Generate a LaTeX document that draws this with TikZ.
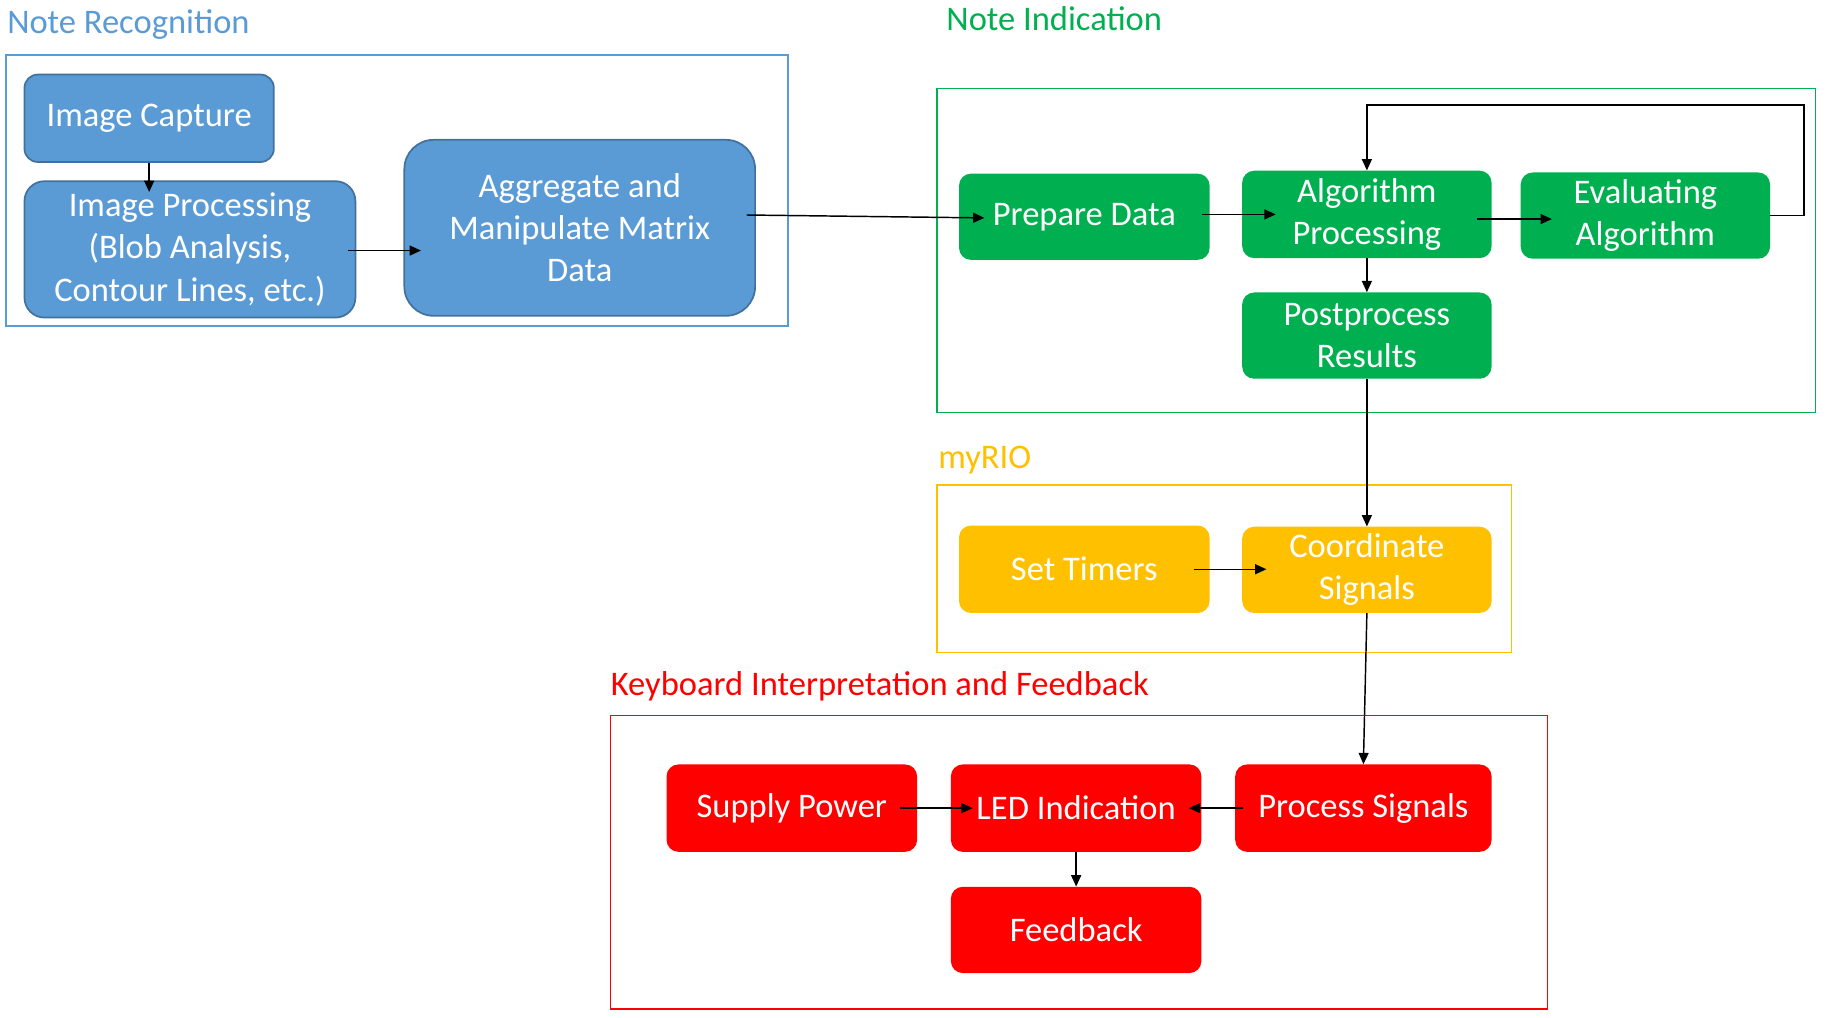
\documentclass[tikz,border=0pt]{standalone}
\usepackage{fontspec}
\setmainfont{Carlito}
\usetikzlibrary{arrows.meta,calc}
\definecolor{nblue}{HTML}{5B9BD5}
\definecolor{nbluedark}{HTML}{41719C}
\definecolor{ngreen}{HTML}{00B050}
\definecolor{nyellow}{HTML}{FFC000}
\definecolor{nred}{HTML}{FF0000}
\begin{document}
\begin{tikzpicture}[x=0.8779pt,y=-0.8779pt,
  font=\fontsize{26}{31.8}\selectfont,
  sz/.style 2 args={minimum width={#1*0.8779pt},minimum height={#2*0.8779pt}},
  proc/.style={rectangle,inner sep=0pt,align=center,text=white},
  bluebox/.style={proc,fill=nblue,draw=nbluedark,line width=1.3pt},
  greenbox/.style={proc,fill=ngreen,rounded corners=9pt},
  yellowbox/.style={proc,fill=nyellow,rounded corners=9pt},
  redbox/.style={proc,fill=nred,rounded corners=9pt},
  group/.style={line width=1.2pt},
  grouplabel/.style={anchor=west,inner sep=0pt},
  arr/.style={line width=1.1pt,-{Triangle[length=8.5pt,width=7.5pt]}}
]
\useasboundingbox (0,0) rectangle (1567,873.6);

% ---------- Note Recognition ----------
\node[grouplabel,text=nblue] (lblrec) at (6,21) {Note Recognition};
\draw[group,draw=nblue] (5,47) rectangle (676,280);
\node[bluebox,sz={214}{75},rounded corners=10pt] (cap) at (128,101.5) {Image Capture};
\node[bluebox,sz={284}{117},rounded corners=15pt] (ip) at (163,214) {Image Processing\\(Blob Analysis,\\Contour Lines, etc.)};
\node[bluebox,sz={301}{151},rounded corners=22pt] (agg) at (497.5,195.5) {Aggregate and\\Manipulate Matrix\\Data};

% ---------- Note Indication ----------
\node[grouplabel,text=ngreen] (lblind) at (812,16) {Note Indication};
\draw[group,draw=ngreen] (804,76) rectangle (1558,354);
\node[greenbox,sz={215}{74}] (prep) at (930.5,186) {Prepare Data};
\node[greenbox,sz={214}{75}] (alg) at (1173,184) {Algorithm\\Processing};
\node[greenbox,sz={214}{74}] (eval) at (1412,185) {Evaluating\\Algorithm};
\node[greenbox,sz={214}{74}] (post) at (1173,288) {Postprocess\\Results};

% ---------- myRIO ----------
\node[grouplabel,text=nyellow] (lblrio) at (805,395) {myRIO};
\draw[group,draw=nyellow] (804,416) rectangle (1297,560);
\node[yellowbox,sz={215}{75}] (set) at (930.5,488.5) {Set Timers};
\node[yellowbox,sz={214}{74}] (coord) at (1173,489) {Coordinate\\Signals};

% ---------- Keyboard Interpretation and Feedback ----------
\node[grouplabel,text=nred] (lblkey) at (524,589) {Keyboard Interpretation and Feedback};
\draw[group,draw=nred] (524,614) rectangle (1328,866);
\node[redbox,sz={215}{75}] (sup) at (679.5,693.5) {Supply Power};
\node[redbox,sz={215}{75}] (led) at (923.5,693.5) {LED Indication};
\node[redbox,sz={220}{75}] (ps) at (1170,693.5) {Process Signals};
\node[redbox,sz={215}{74}] (fb) at (923.5,798) {Feedback};

% ---------- connectors ----------
\draw[arr] (cap.south) -- ($(cap.south |- ip.north)+(0,10)$);
\draw[arr] ($(ip.east)+(-7,1)$) -- ($(ip.east -| agg.west)+(15,1)$);
\draw[arr] ($(agg.east)+(-8,-11)$) -- ($(prep.west)+(22,1)$);
\draw[arr] ($(prep.east)+(-7,-2)$) -- ($(alg.west)+(29,0)$);
\draw[arr] ($(alg.east)+(-13,4)$) -- ($(eval.west)+(27,3)$);
\draw[arr] (eval.east) -- ++(29,0) |- ($(alg.north)+(0,-56)$) -- (alg.north);
\draw[arr] (alg.south) -- (post.north);
\draw[arr] (post.south) -- (coord.north);
\draw[arr] ($(set.east)+(-14,0)$) -- ($(coord.west)+(21,-0.5)$);
\draw[arr] (coord.south) -- (ps.north);
\draw[arr] ($(sup.east)+(-15,0)$) -- ($(led.west)+(19,0)$);
\draw[arr] ($(ps.west)+(7,0)$) -- ($(led.east)+(-11,0)$);
\draw[arr] (led.south) -- (fb.north);
\end{tikzpicture}
\end{document}
